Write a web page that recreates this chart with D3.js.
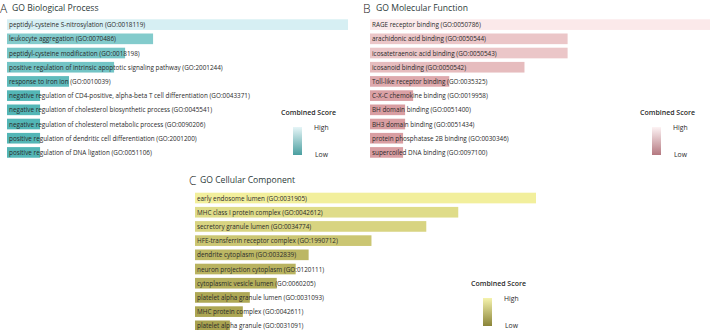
<!DOCTYPE html>
<html>
<head>
<meta charset="utf-8">
<script src="https://cdn.jsdelivr.net/npm/d3@7"></script>
<style>
  html, body { margin: 0; padding: 0; background: #fff; }
  svg { display: block; font-family: 'Open Sans', sans-serif; }
</style>
</head>
<body>
<svg id="chart" width="710" height="330"></svg>
<script>
const bpTerms = [
    'peptidyl-cysteine S-nitrosylation (GO:0018119)',
    'leukocyte aggregation (GO:0070486)',
    'peptidyl-cysteine modification (GO:0018198)',
    'positive regulation of intrinsic apoptotic signaling pathway (GO:2001244)',
    'response to iron ion (GO:0010039)',
    'negative regulation of CD4-positive, alpha-beta T cell differentiation (GO:0043371)',
    'negative regulation of cholesterol biosynthetic process (GO:0045541)',
    'negative regulation of cholesterol metabolic process (GO:0090206)',
    'positive regulation of dendritic cell differentiation (GO:2001200)',
    'positive regulation of DNA ligation (GO:0051106)'
];
const bpScores = [2073, 888, 718, 651, 377, 201, 201, 201, 201, 201];

const mfTerms = [
    'RAGE receptor binding (GO:0050786)',
    'arachidonic acid binding (GO:0050544)',
    'icosatetraenoic acid binding (GO:0050543)',
    'icosanoid binding (GO:0050542)',
    'Toll-like receptor binding (GO:0035325)',
    'C-X-C chemokine binding (GO:0019958)',
    'BH domain binding (GO:0051400)',
    'BH3 domain binding (GO:0051434)',
    'protein phosphatase 2B binding (GO:0030346)',
    'supercoiled DNA binding (GO:0097100)'
];
const mfScores = [2000, 1159, 1159, 906, 465, 253, 206, 206, 194, 194];

const ccTerms = [
    'early endosome lumen (GO:0031905)',
    'MHC class I protein complex (GO:0042612)',
    'secretory granule lumen (GO:0034774)',
    'HFE-transferrin receptor complex (GO:1990712)',
    'dendrite cytoplasm (GO:0032839)',
    'neuron projection cytoplasm (GO:0120111)',
    'cytoplasmic vesicle lumen (GO:0060205)',
    'platelet alpha granule lumen (GO:0031093)',
    'MHC protein complex (GO:0042611)',
    'platelet alpha granule (GO:0031091)'
];
const ccScores = [4000, 3088, 2713, 2070, 1333, 1181, 959, 643, 561, 409];

const svg = d3.select('#chart');
const defs = svg.append('defs');

const textColor = '#2a2a2a';
const BAR_STEP = 14.2;
const BAR_RANGE = 341;

function drawPanel(opts) {
    const g = svg.append('g');

    g.append('text')
        .attr('x', opts.letterX)
        .attr('y', opts.titleY + 4.5)
        .style('font-size', '12px')
        .style('font-weight', 300)
        .style('fill', '#222')
        .text(opts.letter);

    g.append('text')
        .attr('x', opts.titleX)
        .attr('y', opts.titleY + 0.5)
        .attr('dominant-baseline', 'middle')
        .style('font-size', '8.6px')
        .style('fill', '#2c3a3a')
        .text(opts.title);

    const y = d3.scaleBand()
        .domain(opts.terms)
        .range([opts.barTop - BAR_STEP * 0.125, opts.barTop - BAR_STEP * 0.125 + BAR_STEP * opts.terms.length])
        .paddingInner(0.25)
        .paddingOuter(0.125);

    const x = d3.scaleLinear()
        .domain([0, d3.max(opts.scores)])
        .range([0, BAR_RANGE]);

    const color = d3.scaleLinear()
        .domain([d3.min(opts.scores), d3.max(opts.scores)])
        .range([opts.low, opts.high])
        .interpolate(d3.interpolateRgb);

    const rows = g.selectAll('g.row')
        .data(opts.terms.map((t, i) => ({ term: t, score: opts.scores[i] })))
        .join('g')
        .attr('class', 'row');

    rows.append('rect')
        .attr('x', opts.barX)
        .attr('y', d => y(d.term))
        .attr('width', d => x(d.score))
        .attr('height', y.bandwidth())
        .attr('fill', d => color(d.score));

    rows.append('text')
        .attr('x', opts.barX + 2)
        .attr('y', d => y(d.term) + y.bandwidth() / 2)
        .attr('dominant-baseline', 'central')
        .style('font-size', '6.35px')
        .style('fill', textColor)
        .text(d => d.term);

    // legend
    const gradId = 'grad-' + opts.letter;
    const grad = defs.append('linearGradient')
        .attr('id', gradId)
        .attr('x1', '0%').attr('y1', '0%')
        .attr('x2', '0%').attr('y2', '100%');
    grad.append('stop').attr('offset', '0%').attr('stop-color', opts.legendHigh);
    grad.append('stop').attr('offset', '100%').attr('stop-color', opts.legendLow);

    const lg = g.append('g')
        .attr('transform', `translate(${opts.legendX}, ${opts.legendY})`);

    lg.append('text')
        .attr('x', 0)
        .attr('y', 0)
        .attr('dominant-baseline', 'middle')
        .style('font-size', '7px')
        .style('font-weight', 600)
        .style('fill', textColor)
        .text('Combined Score');

    lg.append('rect')
        .attr('x', 12)
        .attr('y', 14)
        .attr('width', 9)
        .attr('height', 28)
        .attr('fill', `url(#${gradId})`);

    lg.append('text')
        .attr('x', 33)
        .attr('y', 15)
        .attr('dominant-baseline', 'middle')
        .style('font-size', '6.8px')
        .style('fill', textColor)
        .text('High');

    lg.append('text')
        .attr('x', 34)
        .attr('y', 42)
        .attr('dominant-baseline', 'middle')
        .style('font-size', '6.8px')
        .style('fill', textColor)
        .text('Low');
}

drawPanel({
    letter: 'A', title: 'GO Biological Process',
    letterX: 0, titleX: 12, titleY: 8,
    terms: bpTerms, scores: bpScores,
    barX: 7, barTop: 19.3,
    low: '#53b6b6', high: '#d6eff3',
    legendX: 281, legendY: 113,
    legendHigh: '#e6f5f7', legendLow: '#4a9fa0'
});

drawPanel({
    letter: 'B', title: 'GO Molecular Function',
    letterX: 363, titleX: 376, titleY: 8,
    terms: mfTerms, scores: mfScores,
    barX: 370, barTop: 19.3,
    low: '#d99ea2', high: '#fbe9ea',
    legendX: 640, legendY: 113,
    legendHigh: '#fdf3f4', legendLow: '#b47880'
});

drawPanel({
    letter: 'C', title: 'GO Cellular Component',
    letterX: 189, titleX: 200, titleY: 180.5,
    terms: ccTerms, scores: ccScores,
    barX: 195, barTop: 192.7,
    low: '#a9a350', high: '#f2ef9c',
    legendX: 471, legendY: 284,
    legendHigh: '#f5f3ad', legendLow: '#8a8438'
});
</script>
</body>
</html>
